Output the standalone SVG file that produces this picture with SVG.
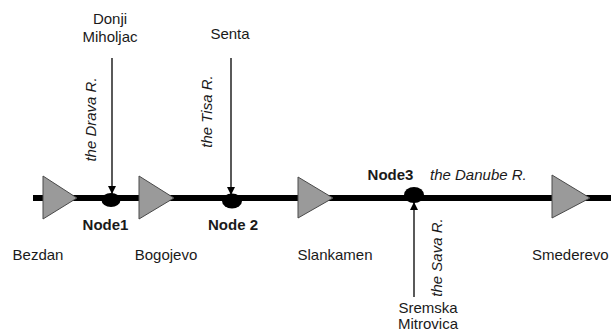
<svg xmlns="http://www.w3.org/2000/svg" width="611" height="333" viewBox="0 0 611 333">
<style>
text{font-family:"Liberation Sans",Arial,sans-serif;font-size:15px;fill:#1a1a1a}
.b{font-weight:bold}
.i{font-style:italic}
.m{text-anchor:middle}
.tri{fill:#9a9a9a;stroke:#4a4a4a;stroke-width:1}
.node{fill:#000}
.trib{stroke:#000;stroke-width:1.3;fill:none}
</style>
<defs>
<marker id="ah" viewBox="0 0 8 8" refX="8" refY="4" markerWidth="8" markerHeight="8" markerUnits="userSpaceOnUse" orient="auto">
<path d="M0,0 L8,4 L0,8 Z" fill="#000"/>
</marker>
</defs>
<g id="connectors">
<line x1="33" y1="198" x2="611" y2="198" stroke="#000" stroke-width="6"/>
<line class="trib" x1="112" y1="58" x2="112" y2="194" marker-end="url(#ah)"/>
<line class="trib" x1="231" y1="58" x2="231" y2="195" marker-end="url(#ah)"/>
<line class="trib" x1="414" y1="297" x2="414" y2="202" marker-end="url(#ah)"/>
</g>
<g id="bezdan">
<polygon class="tri" points="43,176 77,198 43,219"/>
<text class="m" x="38" y="260">Bezdan</text>
</g>
<g id="bogojevo">
<polygon class="tri" points="139,176 174,198 139,219"/>
<text class="m" x="166" y="260">Bogojevo</text>
</g>
<g id="slankamen">
<polygon class="tri" points="298,177 333,198 298,218"/>
<text class="m" x="335" y="260">Slankamen</text>
</g>
<g id="smederevo">
<polygon class="tri" points="552,175 590,198 552,218"/>
<text x="532" y="260">Smederevo</text>
</g>
<g id="node1">
<ellipse class="node" cx="111" cy="200" rx="9.5" ry="7"/>
<text class="b m" x="105.5" y="230">Node1</text>
</g>
<g id="node2">
<ellipse class="node" cx="232" cy="201" rx="10" ry="7.5"/>
<text class="b m" x="233" y="230">Node 2</text>
</g>
<g id="node3">
<ellipse class="node" cx="414" cy="195" rx="10" ry="8"/>
<text class="b m" x="390.5" y="180">Node3</text>
<text class="i" x="430" y="180">the Danube R.</text>
</g>
<g id="donji-miholjac">
<text class="m" x="110" y="24">Donji</text>
<text class="m" x="110" y="42">Miholjac</text>
<text class="i m" transform="translate(96,119.5) rotate(-90)">the Drava R.</text>
</g>
<g id="senta">
<text class="m" x="230" y="39">Senta</text>
<text class="i m" transform="translate(212,111.5) rotate(-90)">the Tisa R.</text>
</g>
<g id="sremska-mitrovica">
<text class="m" x="428" y="313">Sremska</text>
<text class="m" x="428" y="329">Mitrovica</text>
<text class="i m" transform="translate(442,257.5) rotate(-90)">the Sava R.</text>
</g>
</svg>
